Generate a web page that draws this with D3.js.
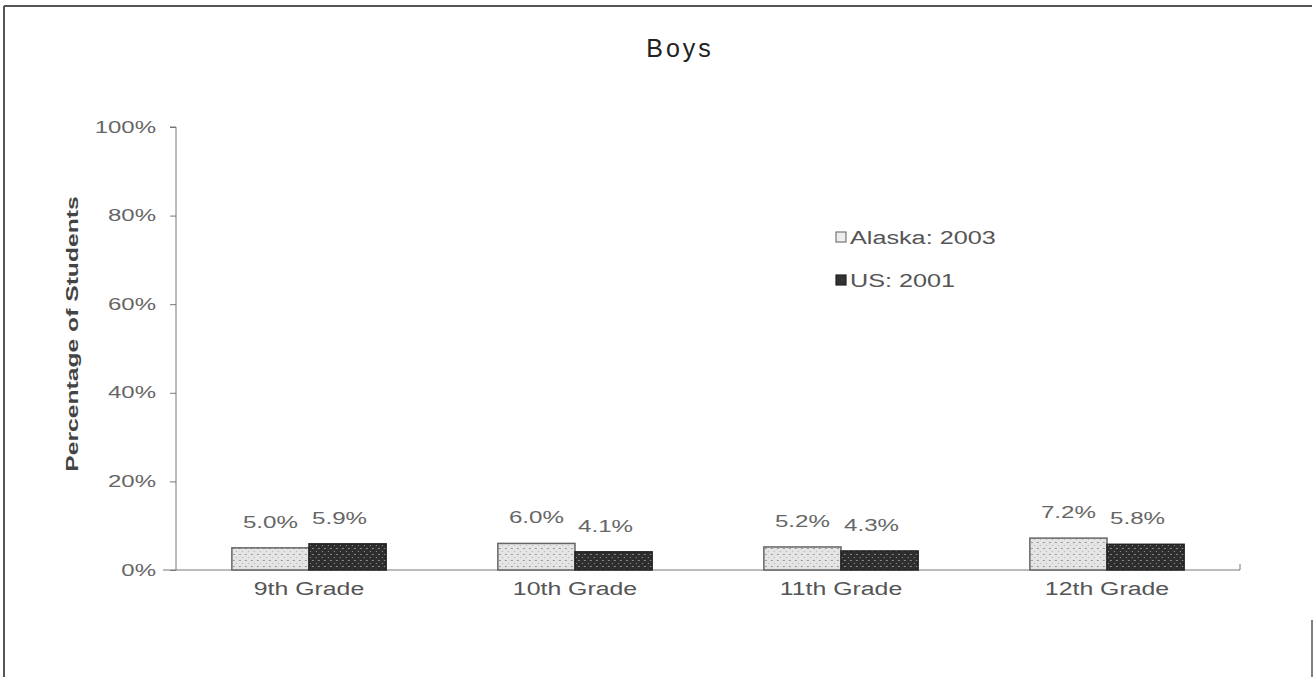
<!DOCTYPE html>
<html>
<head>
<meta charset="utf-8">
<script src="https://cdn.jsdelivr.net/npm/d3@7"></script>
<style>
  body { margin: 0; background: #fff; }
  svg { display: block; font-family: "Liberation Sans", Arial, sans-serif; }
</style>
</head>
<body>
<script>
// data
var grades = ["9th Grade", "10th Grade", "11th Grade", "12th Grade"];
var seriesNames = ["Alaska: 2003", "US: 2001"];
var alaska = [5.0, 6.0, 5.2, 7.2];
var us = [5.9, 4.1, 4.3, 5.8];
var yTicks = [0, 20, 40, 60, 80, 100];

var W = 1314, H = 677;
var margin = {top: 127, right: 74, bottom: 107, left: 176};
var width = W - margin.left - margin.right,
    height = H - margin.top - margin.bottom;

// the scanned text is wide, so stretch glyphs horizontally
function stretch(sel, k) {
    sel.each(function() {
        var w = this.getComputedTextLength();
        d3.select(this).attr("textLength", w * k).attr("lengthAdjust", "spacingAndGlyphs");
    });
}

var svg = d3.select("body").append("svg")
    .attr("width", W).attr("height", H);

// patterns to mimic the dithered fills
var defs = svg.append("defs");
var pl = defs.append("pattern").attr("id", "patA")
    .attr("width", 6).attr("height", 6).attr("patternUnits", "userSpaceOnUse");
pl.append("rect").attr("width", 6).attr("height", 6).attr("fill", "#e4e4e4");
pl.append("rect").attr("x", 1).attr("y", 1).attr("width", 2).attr("height", 1).attr("fill", "#9a9a9a");
pl.append("rect").attr("x", 4).attr("y", 4).attr("width", 1).attr("height", 1).attr("fill", "#b0b0b0");
var pd = defs.append("pattern").attr("id", "patU")
    .attr("width", 6).attr("height", 6).attr("patternUnits", "userSpaceOnUse");
pd.append("rect").attr("width", 6).attr("height", 6).attr("fill", "#2e2e2e");
pd.append("rect").attr("x", 2).attr("y", 1).attr("width", 2).attr("height", 1).attr("fill", "#8a8a8a");
pd.append("rect").attr("x", 0).attr("y", 4).attr("width", 1).attr("height", 1).attr("fill", "#9a9a9a");

// frame (top, left and a bit of right)
svg.append("line").attr("x1", 4).attr("x2", 1312).attr("y1", 6).attr("y2", 6)
    .attr("stroke", "#555").attr("stroke-width", 2);
svg.append("line").attr("x1", 4).attr("x2", 4).attr("y1", 6).attr("y2", H)
    .attr("stroke", "#555").attr("stroke-width", 2);
svg.append("line").attr("x1", 1312).attr("x2", 1312).attr("y1", 620).attr("y2", H)
    .attr("stroke", "#555").attr("stroke-width", 1.5);

// title
svg.append("text")
    .attr("x", 680).attr("y", 57)
    .attr("text-anchor", "middle")
    .style("font-size", "25px")
    .style("letter-spacing", "3px")
    .style("fill", "#222")
    .text("Boys");

var g = svg.append("g")
    .attr("transform", "translate(" + margin.left + "," + margin.top + ")");

var x0 = d3.scaleBand().domain(grades).range([0, width]).paddingInner(0.42).paddingOuter(0.21);
var x1 = d3.scaleBand().domain(seriesNames).range([0, x0.bandwidth()]);
var y = d3.scaleLinear().domain([0, 100]).range([height, 0]);

// y axis
var yAxis = g.append("g")
    .call(d3.axisLeft(y).tickValues(yTicks).tickSize(6).tickPadding(14)
        .tickFormat(function(d) { return d + "%"; }));
yAxis.select(".domain").attr("stroke", "#777").attr("d", "M-6,0H0V" + height);
yAxis.selectAll(".tick line").attr("stroke", "#777");
yAxis.selectAll(".tick text").style("font-size", "16px").style("fill", "#666")
    .call(stretch, 1.5);

// x axis
var xAxis = g.append("g")
    .attr("transform", "translate(0," + height + ")")
    .call(d3.axisBottom(x0).tickSize(0).tickPadding(12));
xAxis.select(".domain").attr("stroke", "#777").attr("d", "M-13,0H" + width + "V-6");
xAxis.selectAll(".tick text").style("font-size", "18px").style("fill", "#555")
    .call(stretch, 1.38);

// y axis title
svg.append("text")
    .attr("transform", "translate(78,334) rotate(-90)")
    .attr("text-anchor", "middle")
    .style("font-size", "17px")
    .style("font-weight", "bold")
    .style("fill", "#444")
    .text("Percentage of Students")
    .call(stretch, 1.45);

// bars
var rows = grades.map(function(gr, i) {
    return {grade: gr, vals: [
        {name: seriesNames[0], v: alaska[i]},
        {name: seriesNames[1], v: us[i]}
    ]};
});

var groups = g.selectAll(".grp").data(rows).enter().append("g")
    .attr("class", "grp")
    .attr("transform", function(d) { return "translate(" + x0(d.grade) + ",0)"; });

groups.selectAll("rect").data(function(d) { return d.vals; }).enter().append("rect")
    .attr("x", function(d) { return x1(d.name); })
    .attr("y", function(d) { return y(d.v); })
    .attr("width", x1.bandwidth())
    .attr("height", function(d) { return height - y(d.v); })
    .attr("fill", function(d, i) { return i === 0 ? "url(#patA)" : "url(#patU)"; })
    .attr("stroke", function(d, i) { return i === 0 ? "#666" : "#222"; })
    .attr("stroke-width", 1.5);

groups.selectAll(".lbl").data(function(d) { return d.vals; }).enter().append("text")
    .attr("class", "lbl")
    .attr("x", function(d, i) { return x1(d.name) + x1.bandwidth() / 2 + (i === 0 ? 0 : -8); })
    .attr("y", function(d) { return y(d.v) - 20; })
    .attr("text-anchor", "middle")
    .style("font-size", "17px")
    .style("fill", "#666")
    .text(function(d) { return d.v.toFixed(1) + "%"; })
    .call(stretch, 1.42);

// legend
var legend = svg.selectAll(".legend").data(seriesNames).enter().append("g")
    .attr("class", "legend")
    .attr("transform", function(d, i) { return "translate(836," + (232 + i * 43) + ")"; });
legend.append("rect")
    .attr("width", 10).attr("height", 10)
    .attr("fill", function(d, i) { return i === 0 ? "#eee" : "#333"; })
    .attr("stroke", function(d, i) { return i === 0 ? "#777" : "#222"; })
    .attr("stroke-width", 1.2);
legend.append("text")
    .attr("x", 14).attr("y", 6).attr("dy", ".35em")
    .style("font-size", "18px")
    .style("fill", "#555")
    .text(function(d) { return d; })
    .call(stretch, 1.4);
</script>
</body>
</html>
